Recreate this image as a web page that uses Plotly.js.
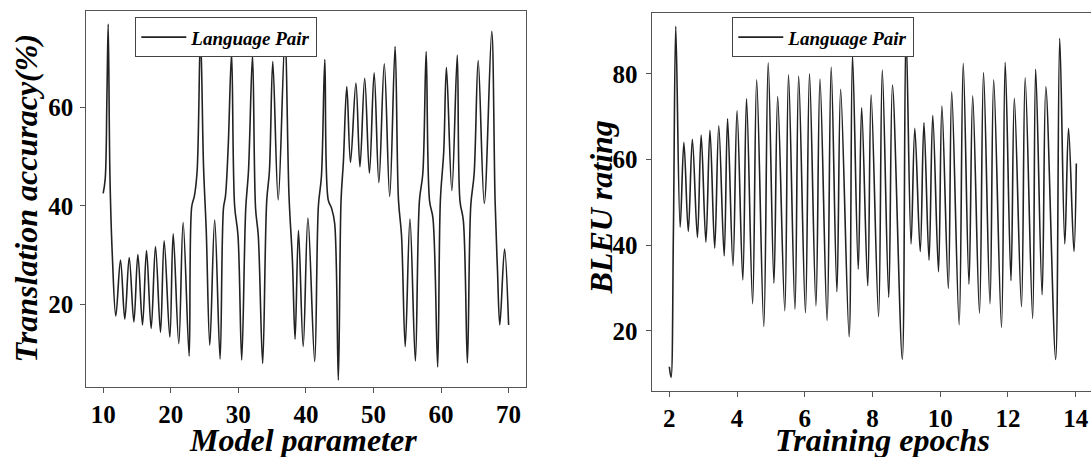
<!DOCTYPE html>
<html>
<head>
<meta charset="utf-8">
<script src="https://cdn.plot.ly/plotly-3.0.1.min.js"></script>
<style>
html, body { margin: 0; padding: 0; overflow: hidden; background: #fff; }
#chart { width: 1110px; height: 457px; }
</style>
</head>
<body>
<div id="chart"></div>
<script>
// ---- Data ----
var paramX = [10.0, 10.3, 10.55, 10.74, 11.0, 11.35, 11.87,
  12.56, 13.2, 13.85, 14.54, 15.13, 15.82, 16.41, 17.1, 17.74, 18.48, 19.02, 19.86, 20.36, 21.19, 21.83, 22.72,
  23.1, 23.5, 23.9, 24.4, 24.85, 25.25, 25.78, 26.5, 27.3, 27.8, 28.1, 28.5, 29.0, 29.45, 29.95, 30.5,
  31.1, 31.5, 32.1, 32.55, 32.95, 33.6, 34.2, 34.6, 35.1, 35.9, 36.9, 37.5, 38.0, 38.4, 38.9, 39.6, 40.3, 41.3,
  41.85, 42.3, 42.8, 43.3, 43.8, 44.25, 44.8, 45.2, 45.55, 46.05, 46.6, 47.4, 48.0, 48.7, 49.4, 50.1, 50.8, 51.6,
  52.4, 53.2, 53.7, 54.15, 54.7, 55.4, 56.2, 56.8, 57.3, 57.8, 58.3, 58.8, 59.5, 59.9, 60.4, 60.8, 61.6, 62.4,
  62.8, 63.3, 63.9, 64.4, 64.9, 65.5, 66.4, 67.5, 68.0, 68.35, 68.7, 69.4, 70.0];
var accuracy = [42.5, 45.5, 62, 76.9, 46, 30, 17.6,
  29.0, 17.0, 29.5, 16.4, 30.1, 15.8, 30.9, 15.1, 31.7, 14.3, 32.9, 13.3, 34.3, 12.0, 36.6, 9.5,
  39.8, 42, 47, 75, 48, 35, 11.7, 37.1, 8.9, 39.5, 42, 52, 71.0, 40, 34, 8.7,
  39.5, 47, 70.6, 39.5, 34, 8.0, 41, 47, 69.3, 41.2, 74, 42, 29, 12.9, 35.0, 11.4, 37.5, 8.4,
  40, 46, 69.7, 41.2, 39.5, 36.5, 4.6, 41, 49, 64.2, 48.8, 64.9, 47.9, 65.9, 46.6, 67.0, 44.7, 68.8,
  41.9, 72.3, 41.2, 34, 11.4, 37.3, 8.5, 41, 46.5, 71.3, 41, 37.5, 7.3, 41, 51, 68.1, 43.1, 70.6,
  41, 37, 8.1, 40, 46.5, 69.5, 40.5, 75.4, 41, 27, 15.8, 31.2, 15.8];

var epochX = [2.0, 2.05, 2.12, 2.19, 2.32, 2.43, 2.56, 2.68, 2.83, 2.94, 3.08, 3.2, 3.34, 3.46, 3.62, 3.72, 3.88,
  4.0, 4.17, 4.28, 4.46, 4.58, 4.79, 4.92, 5.09, 5.2, 5.41, 5.52, 5.71, 5.82, 6.02, 6.14, 6.33, 6.45, 6.66, 6.78,
  6.95, 7.06, 7.31, 7.41, 7.58, 7.68, 7.86, 7.96, 8.18, 8.29, 8.48, 8.59, 8.88, 8.99, 9.14, 9.25, 9.41, 9.52,
  9.67, 9.78, 9.95, 10.05, 10.24, 10.34, 10.56, 10.68, 10.85, 10.96, 11.16, 11.28, 11.47, 11.58, 11.81, 11.92,
  12.09, 12.19, 12.4, 12.51, 12.73, 12.82, 13.01, 13.12, 13.41, 13.53, 13.68, 13.79, 13.95, 14.02];
var bleu = [11.6, 9.1, 42.8, 91.1, 44.2, 64.0, 43.2, 64.7, 41.8, 65.7, 40.7, 66.8, 39.3, 67.9, 37.5, 69.5, 35.2,
  71.4, 31.9, 74.2, 26.3, 78.6, 21.0, 82.6, 31.1, 74.7, 24.7, 79.8, 25.0, 79.5, 24.2, 80.0, 25.8, 78.8, 22.4, 81.6,
  29.1, 76.4, 18.6, 84.4, 34.4, 72.1, 30.5, 75.1, 23.3, 80.9, 27.8, 77.4, 13.3, 90, 40.3, 67.3, 38.5, 68.6,
  36.5, 70.3, 33.8, 72.5, 29.9, 75.8, 21.4, 82.5, 30.9, 74.9, 24.1, 80.3, 26.3, 78.6, 20.8, 82.7,
  31.7, 74.3, 25.6, 79.1, 22.9, 81.1, 28.4, 77.0, 13.3, 88.3, 40.3, 67.3, 38.5, 59.1];

var seriesName = 'Language Pair';
var leftXTitle = 'Model parameter';
var leftYTitle = 'Translation accuracy(%)';
var rightXTitle = 'Training epochs';
var rightYTitle = 'BLEU rating';
var leftXTicks = [10, 20, 30, 40, 50, 60, 70];
var leftYTicks = [20, 40, 60];
var rightXTicks = [2, 4, 6, 8, 10, 12, 14];
var rightYTicks = [20, 40, 60, 80];

// ---- Layout ----
var W = 1110, H = 457;
var serif = 'Liberation Serif, Times New Roman, serif';
var tickFont = {family: serif, size: 25, color: '#000', weight: 'bold'};
var titleFont = {family: serif, size: 32, color: '#000', weight: 'bold', style: 'italic'};
var legendFont = {family: serif, size: 19, color: '#000', weight: 'bold', style: 'italic'};
var lineStyle = {color: '#222', width: 1.6, shape: 'spline', smoothing: 1};

function axisBase(ticks) {
  return {
    tickmode: 'array', tickvals: ticks, ticktext: ticks.map(String),
    showline: true, linecolor: '#555', linewidth: 1, mirror: true,
    ticks: 'outside', tickcolor: '#555', tickwidth: 1,
    showgrid: false, zeroline: false, tickfont: tickFont, automargin: false
  };
}

var xaxis = Object.assign(axisBase(leftXTicks), {
  domain: [86.3 / W, 525.5 / W], range: [7.5, 72.5], ticklen: 5, anchor: 'y'
});
var yaxis = Object.assign(axisBase(leftYTicks), {
  domain: [1 - 386.7 / H, 1 - 10.7 / H], range: [3.27, 79.6], ticklen: 5, anchor: 'x',
  ticklabelstandoff: 2
});
var xaxis2 = Object.assign(axisBase(rightXTicks), {
  domain: [652.4 / W, 1109.5 / W], range: [1.5, 15], ticklen: 5, anchor: 'y2'
});
var yaxis2 = Object.assign(axisBase(rightYTicks), {
  domain: [1 - 390.7 / H, 1 - 12.7 / H], range: [6.0, 94.3], ticklen: 5, anchor: 'x2',
  ticklabelstandoff: 4
});

function axisTitle(text, xpx, ypx, angle) {
  return {
    text: text, xref: 'paper', yref: 'paper', x: xpx / W, y: 1 - ypx / H,
    xanchor: 'center', yanchor: 'middle', showarrow: false, textangle: angle,
    font: titleFont
  };
}

var legendBase = {
  xanchor: 'left', yanchor: 'top', bgcolor: '#fff', bordercolor: '#444', borderwidth: 1,
  font: legendFont, itemwidth: 45
};

var traces = [
  {x: paramX, y: accuracy, type: 'scatter', mode: 'lines', name: seriesName,
   xaxis: 'x', yaxis: 'y', line: lineStyle, legend: 'legend', hoverinfo: 'skip'},
  {x: epochX, y: bleu, type: 'scatter', mode: 'lines', name: seriesName,
   xaxis: 'x2', yaxis: 'y2', line: lineStyle, legend: 'legend2', hoverinfo: 'skip'}
];

var layout = {
  width: W, height: H,
  margin: {l: 0, r: 0, t: 0, b: 0, pad: 0},
  paper_bgcolor: '#fff', plot_bgcolor: '#fff',
  showlegend: true,
  xaxis: xaxis, yaxis: yaxis, xaxis2: xaxis2, yaxis2: yaxis2,
  legend: Object.assign({x: 135.3 / W, y: 1 - 17.3 / H}, legendBase),
  legend2: Object.assign({x: 732.3 / W, y: 1 - 17.3 / H}, legendBase),
  annotations: [
    axisTitle(leftXTitle, 303, 440, 0),
    axisTitle(rightXTitle, 882, 440, 0),
    axisTitle(leftYTitle, 25, 198.5, -90),
    axisTitle(rightYTitle, 600, 207.5, -90)
  ]
};

Plotly.newPlot('chart', traces, layout, {staticPlot: true, displayModeBar: false});
</script>
</body>
</html>
